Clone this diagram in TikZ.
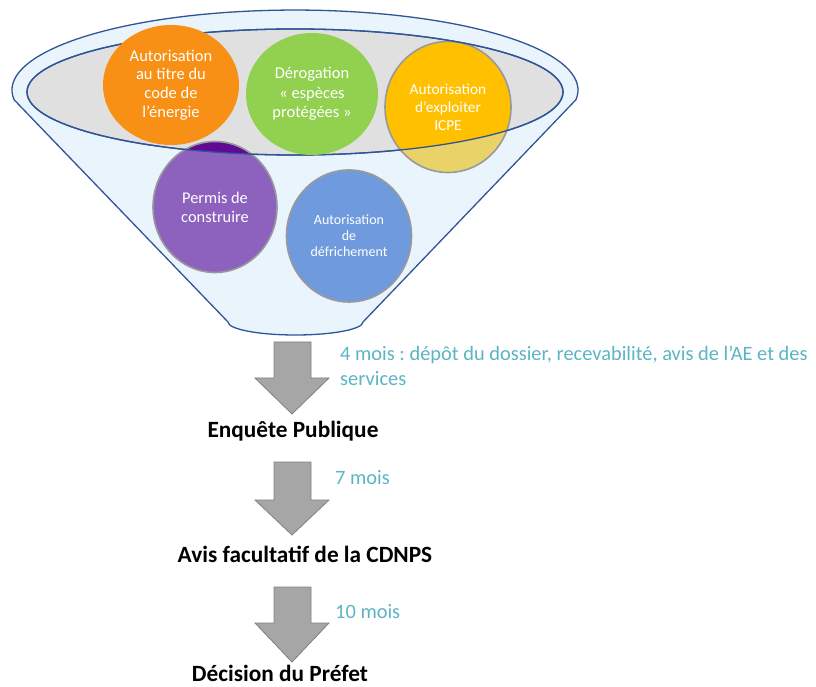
\documentclass[tikz,border=0pt]{standalone}
\usepackage{fontspec}
\setmainfont{Carlito}
\usepackage{tikz}
\usetikzlibrary{shapes.geometric,positioning}
\definecolor{funnelfill}{RGB}{233,244,253}
\definecolor{funnelline}{RGB}{47,85,151}
\definecolor{rimgray}{RGB}{224,224,224}
\definecolor{energie}{RGB}{247,144,20}
\definecolor{especes}{RGB}{146,208,80}
\definecolor{icpe}{RGB}{255,192,0}
\definecolor{icpepale}{RGB}{233,210,104}
\definecolor{permis}{RGB}{141,98,190}
\definecolor{permisdark}{RGB}{96,10,150}
\definecolor{defrich}{RGB}{111,155,222}
\definecolor{delai}{RGB}{92,180,196}
\definecolor{fleche}{RGB}{166,166,166}
\frenchspacing

\begin{document}
\begin{tikzpicture}[
    x=1pt, y=1pt,
    bubble/.style={ellipse, inner sep=0pt, text=white, align=center},
    edged/.style={draw=black!40, line width=1.6pt},
    stage/.style={anchor=base, inner sep=0pt, font=\bfseries\fontsize{23.3}{27}\selectfont},
    delay/.style={anchor=base west, inner sep=0pt, align=left, text=delai,
        font=\fontsize{20.4}{25}\selectfont},
]
\useasboundingbox (0,0) rectangle (816,686);

% ===== funnel =====
\coordinate (rim) at (295,594);
\filldraw[fill=funnelfill, draw=funnelline, line width=1.3pt]
    (14.1,586.2) arc[start angle=187, end angle=-7, x radius=283, y radius=80]
    -- (363,364) arc[start angle=0, end angle=-180, x radius=67.5, y radius=13]
    -- cycle;
\filldraw[fill=rimgray, draw=funnelline, line width=1.3pt]
    (rim) ellipse[x radius=268, y radius=63];

% ===== procedures =====
\node[bubble, edged, fill=icpepale, minimum width=126, minimum height=131,
    font=\fontsize{15.3}{18}\selectfont,
    path picture={\fill[icpe] (rim) ellipse[x radius=268, y radius=63];}]
    (icpe) at (448,579) {Autorisation\\d’exploiter\\ICPE};
\node[bubble, edged, fill=permis, minimum width=124, minimum height=131,
    font=\fontsize{16.4}{19}\selectfont,
    path picture={\fill[permisdark] (rim) ellipse[x radius=268, y radius=63];}]
    (permis) at (215,479) {Permis de\\construire};
\node[bubble, edged, fill=defrich, minimum width=125, minimum height=132,
    font=\fontsize{14}{16}\selectfont]
    (defrich) at (349,450) {Autorisation\\de\\défrichement};

% rim line passes over the lower bubbles
\draw[funnelline, line width=1.3pt] (rim) ellipse[x radius=268, y radius=63];

\node[bubble, fill=energie, minimum width=136, minimum height=120,
    font=\fontsize{16.5}{18.7}\selectfont]
    (energie) at (171,601) {Autorisation\\au titre du\\code de\\l’énergie};
\node[bubble, fill=especes, minimum width=132, minimum height=122,
    font=\fontsize{16.5}{19.5}\selectfont]
    (especes) at (312,592) {Dérogation\\«~espèces\\protégées~»};

% ===== steps =====
\foreach \top/\neck/\tip in {344/308/272, 224/186/151, 99/63/24} {
    \draw[draw=black!50, fill=fleche, line width=0.8pt]
        (274,\top) -- (311,\top) -- (311,\neck) -- (329,\neck)
        -- (292,\tip) -- (255,\neck) -- (274,\neck) -- cycle;
}

\node[stage] (enquete) at (293,249) {Enquête Publique};
\node[stage] (cdnps) at (305,124) {Avis facultatif de la CDNPS};
\node[stage] (prefet) at (280,5) {Décision du Préfet};

\node[delay] (delai1) at (340,301) {4 mois : dépôt du dossier, recevabilité, avis de l’AE et des\\services};
\node[delay] (delai2) at (335,202) {7 mois};
\node[delay] (delai3) at (335,68) {10 mois};

\end{tikzpicture}
\end{document}
